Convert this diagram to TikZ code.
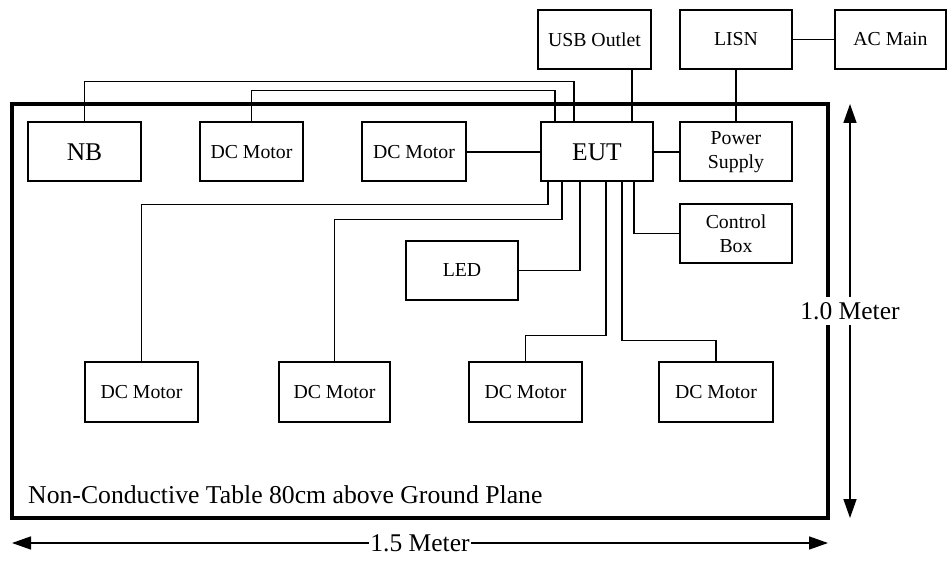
\documentclass[tikz,border=0pt]{standalone}
\usepackage{fontspec}
\setmainfont{Liberation Serif}
\usetikzlibrary{arrows.meta}

\begin{document}
\begin{tikzpicture}[x=1pt,y=-1pt,
  box/.style={draw,line width=2pt,minimum width=112pt,minimum height=59pt,
    inner sep=0pt,align=center,font=\fontsize{19.8}{24}\selectfont},
  bigbox/.style={box,font=\fontsize{25.5}{30}\selectfont},
  wire/.style={line width=1.2pt},
  dim/.style={line width=1.5pt,
    {Triangle[length=19pt,width=13pt]}-{Triangle[length=19pt,width=13pt]}},
  dimlabel/.style={fill=white,inner sep=1pt,font=\fontsize{25.5}{30}\selectfont}]

\useasboundingbox (0,0) rectangle (947,561);

% the table
\node[draw,line width=4pt,outer sep=0pt,inner sep=0pt,
  minimum width=816pt,minimum height=414pt] (table) at (420,311) {};
\node[anchor=base west,inner sep=0pt,font=\fontsize{25.7}{30}\selectfont] (tlabel) at (28,503)
  {Non-Conductive Table 80cm above Ground Plane};

% boxes on the table, top row
\node[bigbox,minimum width=113pt] (nb) at (84.5,152) {NB};
\node[box,minimum width=103pt] (dca) at (251.5,152) {DC Motor};
\node[box,minimum width=104pt] (dcb) at (414,152) {DC Motor};
\node[bigbox] (eut) at (597,152) {EUT};
\node[box] (psu) at (736,152) {Power\\Supply};

% outside the table
\node[box,minimum width=113pt] (usb) at (594.5,39.5) {USB Outlet};
\node[box] (lisn) at (736,39.5) {LISN};
\node[box,minimum width=111pt] (acmain) at (890.5,39.5) {AC Main};

% middle
\node[box] (led) at (462,270.5) {LED};
\node[box] (ctrl) at (736,233.5) {Control\\Box};

% bottom row of motors
\node[box,minimum width=113pt,minimum height=60pt] (dm1) at (141.5,392) {DC Motor};
\node[box,minimum width=111pt,minimum height=60pt] (dm2) at (334.5,392) {DC Motor};
\node[box,minimum width=113pt,minimum height=60pt] (dm3) at (525.5,392) {DC Motor};
\node[box,minimum width=114pt,minimum height=60pt] (dm4) at (716,392) {DC Motor};

% wiring to the EUT
\draw[wire] (nb.north) -- ++(0,-40) -| ([xshift=-23pt]eut.north);
\draw[wire] (dca.north) -- ++(0,-31) -| ([xshift=-42pt]eut.north);
\draw[wire] (dcb.east) -- (eut.west);
\draw[wire] (eut.east) -- (psu.west);
\coordinate (usbin) at ([xshift=35pt]eut.north);
\draw[wire] (usbin) -- (usbin |- usb.south);
\draw[wire] (lisn.south) -- (psu.north);
\draw[wire] (lisn.east) -- (acmain.west);

\draw[wire] ([xshift=-49pt]eut.south) -- ++(0,22) -| (dm1.north);
\draw[wire] ([xshift=-35pt]eut.south) -- ++(0,37) -| (dm2.north);
\draw[wire] ([xshift=-17pt]eut.south) |- (led.east);
\draw[wire] ([xshift=9pt]eut.south) -- ++(0,153) -| (dm3.north);
\draw[wire] ([xshift=25pt]eut.south) -- ++(0,158) -| (dm4.north);
\draw[wire] ([xshift=37pt]eut.south) |- (ctrl.west);

% dimensions
\draw[dim] ([xshift=22pt]table.north east) --
  node[dimlabel,inner ysep=5pt] (hgt) {1.0 Meter} ([xshift=22pt]table.south east);
\draw[dim] ([yshift=-25pt]table.south west) --
  node[dimlabel] (wdt) {1.5 Meter} ([yshift=-25pt]table.south east);

\end{tikzpicture}
\end{document}
